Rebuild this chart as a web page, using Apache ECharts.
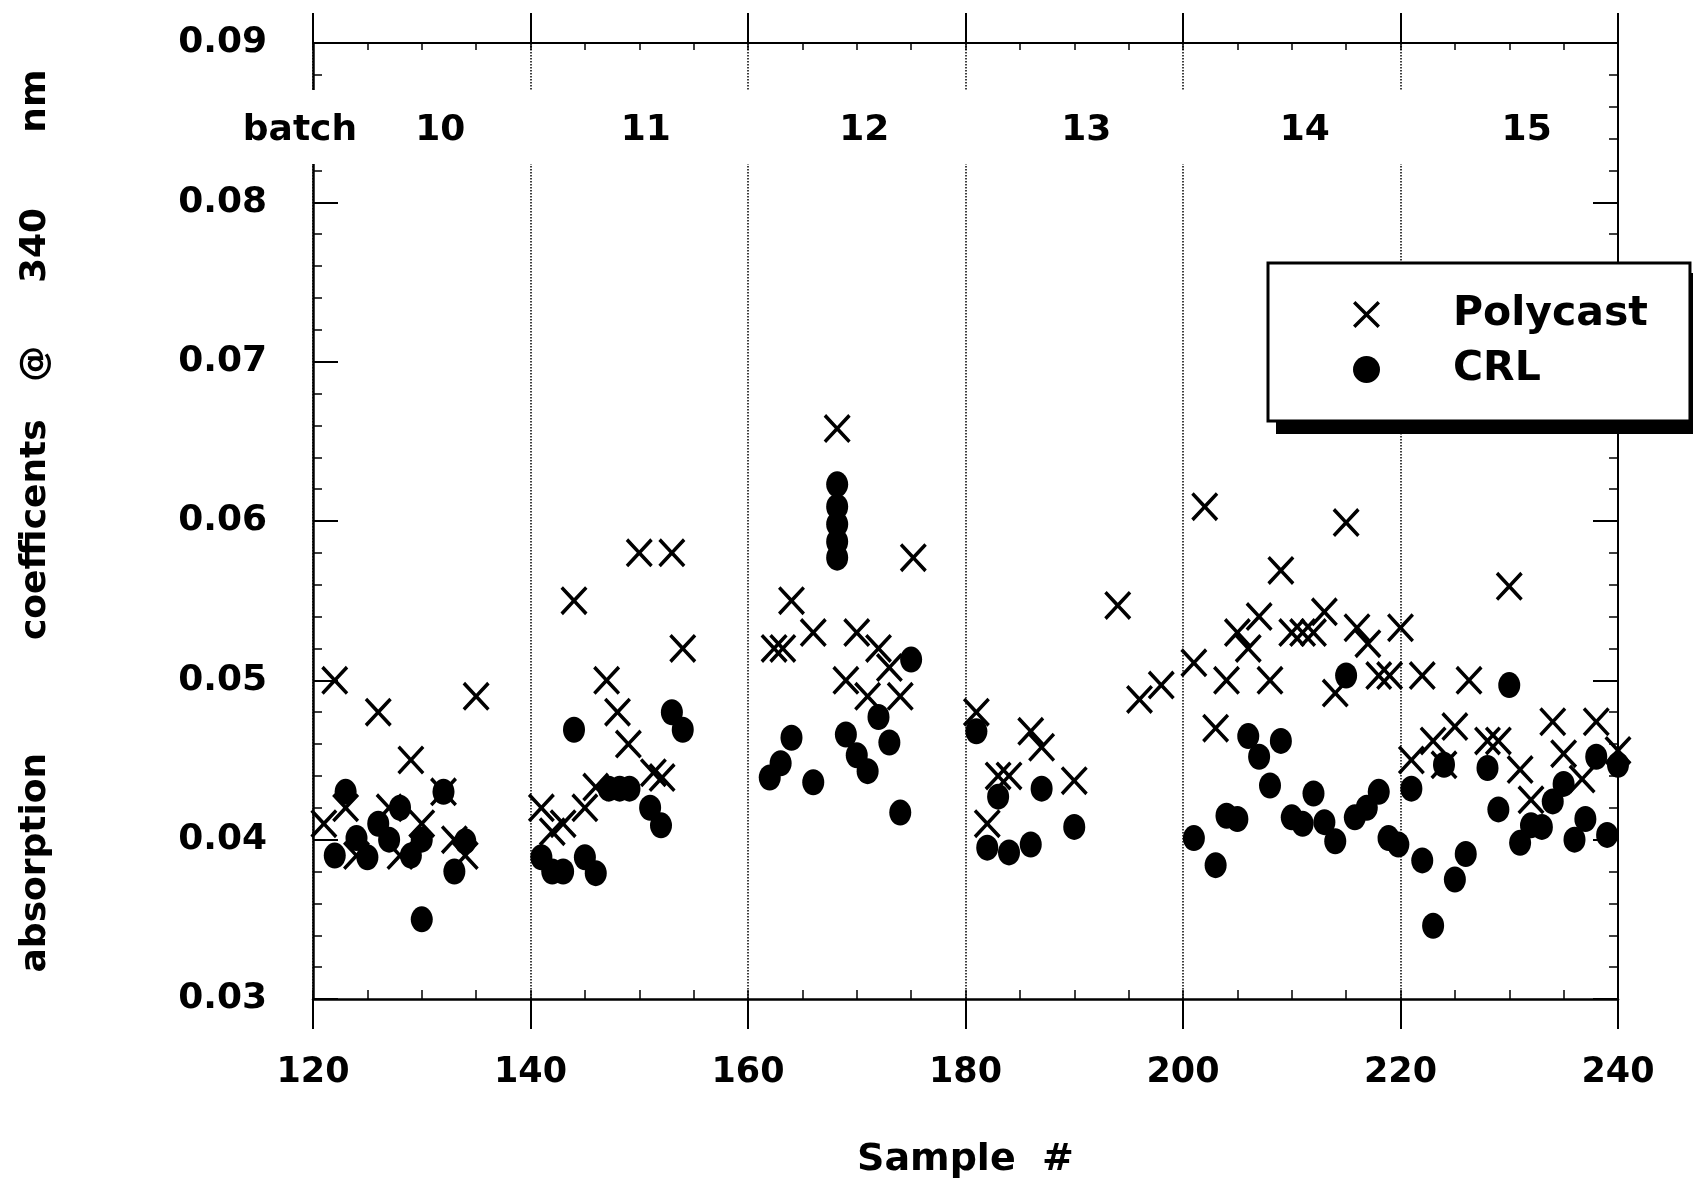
<!DOCTYPE html>
<html>
<head>
<meta charset="utf-8">
<title>absorption coefficents @ 340 nm</title>
<script src="https://cdn.jsdelivr.net/npm/echarts@6/dist/echarts.min.js"></script>
<style>
  html, body { margin: 0; padding: 0; background: #fff; }
  #main { width: 1693px; height: 1186px; }
</style>
</head>
<body>
<div id="main"></div>
<script>
  // Polycast (crosses)
  const polycastX = [
    121, 122, 123, 124, 126, 127, 128, 129, 130, 132, 133, 134, 135,
    141, 142, 143, 144, 145, 146, 147, 148, 149, 150, 151.3, 152.1, 153, 154,
    162.4, 163.2, 164, 166, 168.2, 169, 170, 171, 172, 173, 174, 175.2,
    181, 182, 183, 184, 186, 187, 190, 194, 196, 198,
    201, 202, 203, 204, 205, 206, 207, 208, 209, 210, 211, 212, 213, 214, 215, 216, 217, 218, 219, 220,
    221, 222, 223, 224, 225, 226.3, 228, 229, 230, 231, 232, 234, 235, 236.7, 238, 240
  ];
  const polycastY = [
    0.041, 0.050, 0.042, 0.039, 0.048, 0.042, 0.039, 0.045, 0.041, 0.043, 0.040, 0.039, 0.049,
    0.042, 0.0405, 0.041, 0.055, 0.042, 0.0433, 0.050, 0.048, 0.046, 0.058, 0.0442, 0.0439, 0.058, 0.052,
    0.052, 0.052, 0.055, 0.053, 0.0658, 0.050, 0.053, 0.049, 0.052, 0.0508, 0.049, 0.0577,
    0.048, 0.041, 0.044, 0.044, 0.0468, 0.0458, 0.0437, 0.0547, 0.0488, 0.0497,
    0.0511, 0.0609, 0.047, 0.050, 0.053, 0.052, 0.054, 0.050, 0.0569, 0.053, 0.053, 0.053, 0.0543, 0.0492, 0.0599, 0.0533, 0.0523, 0.0503, 0.0503, 0.0533,
    0.045, 0.0503, 0.0462, 0.0447, 0.0471, 0.050, 0.0462, 0.0462, 0.0559, 0.0444, 0.0425, 0.0474, 0.0454, 0.0438, 0.0474, 0.0456
  ];

  // CRL (filled circles)
  const crlX = [
    122, 123, 124, 125, 126, 127, 128, 129, 130, 130, 132, 133, 134,
    141, 142, 143, 144, 145, 146, 147.2, 148.2, 149.1, 151, 152, 153, 154,
    162, 163, 164, 166, 168.2, 168.2, 168.2, 168.2, 168.2, 169, 170, 171, 172, 173, 174, 175,
    181, 182, 183, 184, 186, 187, 190,
    201, 203, 204, 205, 206, 207, 208, 209, 210, 211, 212, 213, 214, 215, 215.8, 216.9, 218, 218.9, 219.8,
    221, 222, 223, 224, 225, 226, 228, 229, 230, 231, 232, 233, 234, 235, 236, 237, 238, 239, 240
  ];
  const crlY = [
    0.039, 0.043, 0.0401, 0.0389, 0.041, 0.040, 0.042, 0.039, 0.040, 0.035, 0.043, 0.038, 0.0399,
    0.0389, 0.038, 0.038, 0.0469, 0.0389, 0.0379, 0.0432, 0.0432, 0.0432, 0.042, 0.0409, 0.048, 0.0469,
    0.0439, 0.0448, 0.0464, 0.0436, 0.0623, 0.0609, 0.0598, 0.0587, 0.0577, 0.0466, 0.0453, 0.0443, 0.0477, 0.0461, 0.0417, 0.0513,
    0.0468, 0.0395, 0.0427, 0.0392, 0.0397, 0.0432, 0.0408,
    0.0401, 0.0384, 0.0415, 0.0413, 0.0465, 0.0452, 0.0434, 0.0462, 0.0414, 0.041, 0.0429, 0.0411, 0.0399, 0.0503, 0.0414, 0.042, 0.043, 0.0401, 0.0397,
    0.0432, 0.0387, 0.0346, 0.0447, 0.0375, 0.0391, 0.0445, 0.0419, 0.0497, 0.0398, 0.0409, 0.0408, 0.0424, 0.0435, 0.040, 0.0413, 0.0452, 0.0403, 0.0447
  ];

  // batch labels along the top
  const batchNames = ['batch', '10', '11', '12', '13', '14', '15'];
  const batchX = [118.8, 131.7, 150.6, 170.7, 191.1, 211.2, 231.6];
  const batchY = 0.0845;

  const FONT = 'DejaVu Sans';
  const CROSS = 'path://M0,0.9L0.9,0L5,4.1L9.1,0L10,0.9L5.9,5L10,9.1L9.1,10L5,5.9L0.9,10L0,9.1L4.1,5Z';

  const myChart = echarts.init(document.getElementById('main'));

  const tickOnly = (pos, interval, inside, length, width) => ({
    type: 'value',
    position: pos,
    min: pos === 'left' || pos === 'right' ? 0.03 : 120,
    max: pos === 'left' || pos === 'right' ? 0.09 : 240,
    interval: interval,
    axisLine: { show: false, onZero: false },
    axisTick: { show: true, inside: inside, length: length, lineStyle: { color: '#000', width: width } },
    axisLabel: { show: false },
    splitLine: { show: false }
  });

  const option = {
    animation: false,
    backgroundColor: '#fff',
    grid: { left: 313, right: 75, top: 43, bottom: 187, outerBoundsMode: 'none' },
    xAxis: [
      {
        type: 'value',
        position: 'bottom',
        min: 120,
        max: 240,
        interval: 20,
        axisLine: { show: true, onZero: false, lineStyle: { color: '#000', width: 2.5 } },
        axisTick: { show: true, inside: false, length: 30, lineStyle: { color: '#000', width: 2 } },
        axisLabel: { margin: 56, color: '#000', fontFamily: FONT, fontWeight: 'bold', fontSize: 35 },
        splitLine: { show: true, lineStyle: { type: 'dotted', color: '#000', width: 1.5 } },
        name: 'Sample  #',
        nameLocation: 'middle',
        nameGap: 142,
        nameTextStyle: { color: '#000', fontFamily: FONT, fontWeight: 'bold', fontSize: 38 }
      },
      tickOnly('bottom', 5, true, 9, 1.5),
      {
        type: 'value',
        position: 'top',
        min: 120,
        max: 240,
        interval: 20,
        axisLine: { show: true, onZero: false, lineStyle: { color: '#000', width: 2 } },
        axisTick: { show: true, inside: false, length: 30, lineStyle: { color: '#000', width: 2 } },
        axisLabel: { show: false },
        splitLine: { show: false }
      },
      tickOnly('top', 5, true, 7, 1.5)
    ],
    yAxis: [
      {
        type: 'value',
        position: 'left',
        min: 0.03,
        max: 0.09,
        interval: 0.01,
        axisLine: { show: true, onZero: false, lineStyle: { color: '#000', width: 2.5 } },
        axisTick: { show: true, inside: true, length: 25, lineStyle: { color: '#000', width: 2 } },
        axisLabel: {
          margin: 46,
          color: '#000',
          fontFamily: FONT,
          fontWeight: 'bold',
          fontSize: 36,
          formatter: (v) => v.toFixed(2)
        },
        splitLine: { show: false },
        name: 'absorption         coefficents   @     340      nm',
        nameLocation: 'middle',
        nameRotate: 90,
        nameGap: 259,
        nameTextStyle: { color: '#000', fontFamily: FONT, fontWeight: 'bold', fontSize: 36 }
      },
      tickOnly('left', 0.002, true, 9, 1.5),
      {
        type: 'value',
        position: 'right',
        min: 0.03,
        max: 0.09,
        interval: 0.01,
        axisLine: { show: true, onZero: false, lineStyle: { color: '#000', width: 2 } },
        axisTick: { show: true, inside: true, length: 25, lineStyle: { color: '#000', width: 2 } },
        axisLabel: { show: false },
        splitLine: { show: false }
      },
      tickOnly('right', 0.002, true, 9, 1.5)
    ],
    legend: {
      data: ['Polycast', 'CRL'],
      orient: 'vertical',
      left: 1268,
      top: 263,
      padding: [31, 42, 31, 85],
      itemWidth: 27,
      itemHeight: 27,
      itemGap: 14,
      backgroundColor: '#fff',
      borderColor: '#000',
      borderWidth: 3,
      z: 30,
      textStyle: {
        color: '#000',
        fontFamily: FONT,
        fontWeight: 'bold',
        fontSize: 41,
        lineHeight: 41,
        padding: [0, 0, 0, 68]
      }
    },
    graphic: [
      {
        // gap in the frame where the batch numbers sit
        type: 'rect',
        z: 10,
        shape: { x: 305, y: 90, width: 1298, height: 74 },
        style: { fill: '#fff' }
      },
      {
        // hard drop shadow behind the legend box
        type: 'rect',
        z: 25,
        shape: { x: 1276, y: 273, width: 430, height: 161 },
        style: { fill: '#000' }
      }
    ],
    series: [
      {
        name: 'Polycast',
        type: 'scatter',
        data: polycastX.map((x, i) => [x, polycastY[i]]),
        symbol: CROSS,
        symbolSize: [27, 29],
        itemStyle: { color: '#000', opacity: 1 },
        z: 3
      },
      {
        name: 'CRL',
        type: 'scatter',
        data: crlX.map((x, i) => [x, crlY[i]]),
        symbol: 'circle',
        symbolSize: [22, 26],
        itemStyle: { color: '#000', opacity: 1 },
        z: 4
      },
      {
        name: 'batch',
        type: 'scatter',
        data: batchX.map((x, i) => [x, batchY, batchNames[i]]),
        symbolSize: 1,
        itemStyle: { color: 'rgba(0,0,0,0)', opacity: 1 },
        silent: true,
        clip: false,
        z: 20,
        label: {
          show: true,
          position: 'inside',
          formatter: (p) => p.data[2],
          color: '#000',
          opacity: 1,
          fontFamily: FONT,
          fontWeight: 'bold',
          fontSize: 36
        }
      }
    ]
  };

  myChart.setOption(option);
</script>
</body>
</html>
